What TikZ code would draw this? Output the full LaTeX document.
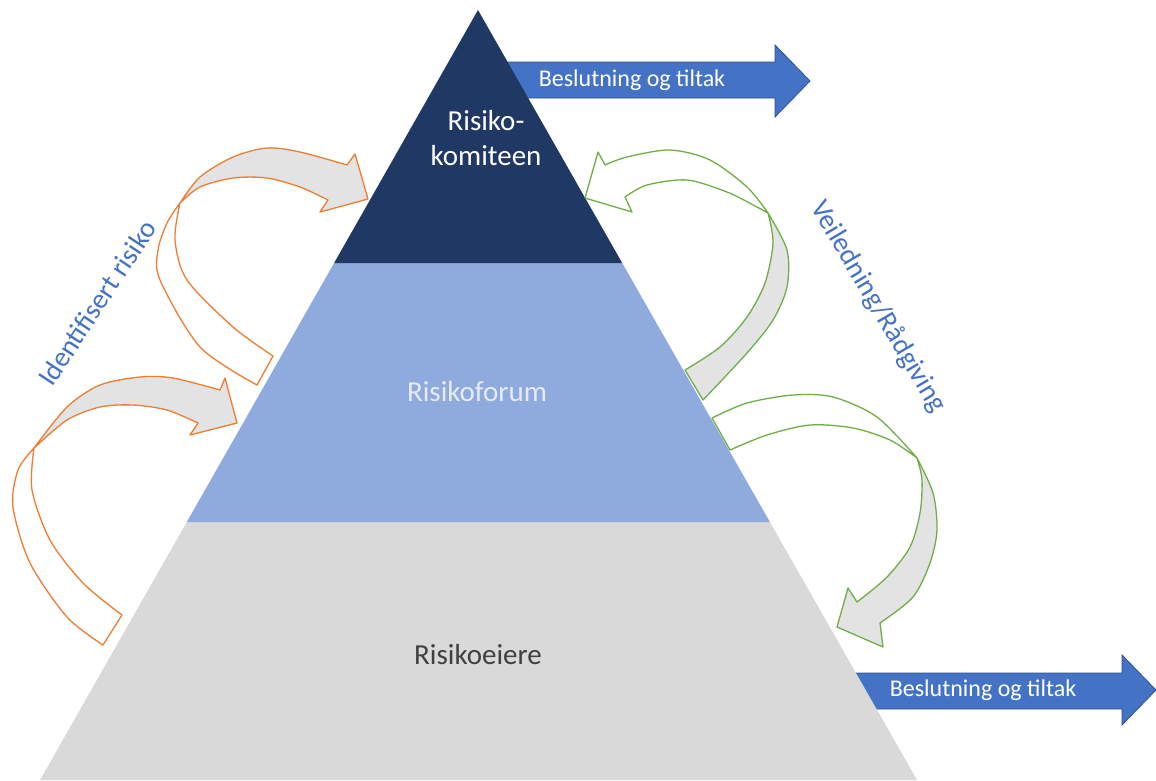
\documentclass[tikz,border=0pt]{standalone}
\usepackage{fontspec}
\setmainfont{Carlito}
\definecolor{navy}{HTML}{1F3864}
\definecolor{midblue}{HTML}{8FAADC}
\definecolor{basegray}{HTML}{D9D9D9}
\definecolor{arrowblue}{HTML}{4472C4}
\definecolor{arrowborder}{HTML}{2F528F}
\definecolor{curvegray}{HTML}{E3E3E3}
\definecolor{orangeline}{HTML}{ED7D31}
\definecolor{greenline}{HTML}{70AD47}
\definecolor{labelblue}{HTML}{4472C4}
\definecolor{forumtext}{HTML}{E6ECF7}
\definecolor{eiertext}{HTML}{404040}
\tikzset{
  blockarrow/.style={fill=arrowblue, draw=arrowborder, line width=0.8pt, line join=miter},
  arrowtext/.style={text=white, font=\fontsize{24}{28}\selectfont, inner sep=0pt},
  leveltext/.style={font=\fontsize{29}{35}\selectfont, inner sep=0pt, align=center},
  sidelabel/.style={text=labelblue, font=\fontsize{28}{32}\selectfont, inner sep=0pt},
  orangecurve/.style={draw=orangeline, line width=1.3pt, line join=round},
  greencurve/.style={draw=greenline, line width=1.3pt, line join=round},
}
\begin{document}
\begin{tikzpicture}[x=1pt,y=-1pt]
\useasboundingbox[fill=white] (0,0) rectangle (1156,780);
% block arrows (behind pyramid)
\draw[blockarrow] (480,62) -- (775,62) -- (775,45) -- (810,81) -- (775,117) -- (775,98) -- (480,98) -- cycle;
\draw[blockarrow] (830,673) -- (1122,673) -- (1122,655) -- (1156,690) -- (1122,725) -- (1122,709) -- (830,709) -- cycle;
% pyramid
\coordinate (apex) at (478,10);
\coordinate (l1) at (334.1,263);
\coordinate (r1) at (622.2,263);
\coordinate (l2) at (186.8,522);
\coordinate (r2) at (769.9,522);
\coordinate (l3) at (40,780);
\coordinate (r3) at (917,780);
\fill[basegray] (l2) -- (r2) -- (r3) -- (l3) -- cycle;
\fill[midblue] (l1) -- (r1) -- (r2) -- (l2) -- cycle;
\fill[navy] (apex) -- (r1) -- (l1) -- cycle;
% texts
\node[arrowtext] (top) at (632,80) {Beslutning og tiltak};
\node[arrowtext] (bottom) at (983,690) {Beslutning og tiltak};
\node[leveltext, text=white] (komite) at (486,138) {Risiko-\\komiteen};
\node[leveltext, text=forumtext] (forum) at (477,392) {Risikoforum};
\node[leveltext, text=eiertext] (eiere) at (478,655) {Risikoeiere};
\node[sidelabel, rotate=56.5] (idrisk) at (97,303) {Identifisert risiko};
\node[sidelabel, rotate=-59.4] (veil) at (878,307) {Veiledning/Rådgiving};
% orange upper curved arrow
\path[orangecurve, fill=white] plot[smooth] coordinates {(257,385)(200,347)(160,280)(158,250)(167,223)(180,203)} -- plot[smooth] coordinates {(180,203)(175,240)(187,280)(233,327)(273,356)} -- cycle;
\path[orangecurve, fill=curvegray] plot[smooth] coordinates {(180,203)(200,177)(233,157)(267,148)(300,152)(347,165)} -- (355,154) -- (368,199) -- (320,212) -- plot[smooth] coordinates {(328,200)(300,187)(267,178)(233,178)(200,187)(180,203)} -- cycle;
% orange lower curved arrow
\path[orangecurve, fill=white] plot[smooth] coordinates {(103,645)(67,617)(30,563)(13,507)(18,470)(34,448)} -- plot[smooth] coordinates {(34,448)(32,490)(50,540)(83,583)(122,615)} -- cycle;
\path[orangecurve, fill=curvegray] plot[smooth] coordinates {(34,448)(67,407)(100,385)(140,377)(173,378)(220,390)} -- (225,378) -- (237,423) -- (190,435) -- plot[smooth] coordinates {(198,423)(167,410)(133,405)(100,407)(67,420)(34,448)} -- cycle;
% green upper curved arrow
\path[greencurve, fill=white] plot[smooth] coordinates {(768,213)(747,187)(710,160)(670,150)(627,157)(605,165)} -- (598,152) -- (585,198) -- (632,212) -- plot[smooth] coordinates {(625,197)(647,185)(687,180)(727,192)(757,207)(768,213)} -- cycle;
\path[greencurve, fill=curvegray] plot[smooth] coordinates {(768,213)(787,250)(787,287)(773,320)(747,353)(703,400)} -- plot[smooth] coordinates {(685,370)(720,347)(747,317)(765,283)(773,243)(768,213)} -- cycle;
% green lower curved arrow
\path[greencurve, fill=white] plot[smooth] coordinates {(712,418)(747,403)(793,395)(833,397)(877,417)(917,458)} -- plot[smooth] coordinates {(917,458)(890,440)(853,428)(810,425)(767,435)(730,450)} -- cycle;
\path[greencurve, fill=curvegray] plot[smooth] coordinates {(917,458)(933,493)(937,530)(930,563)(913,597)(880,623)} -- (883,647) -- (837,627) -- (848,588) -- plot[smooth] coordinates {(857,602)(887,577)(910,547)(920,513)(922,480)(917,458)} -- cycle;
\end{tikzpicture}
\end{document}
